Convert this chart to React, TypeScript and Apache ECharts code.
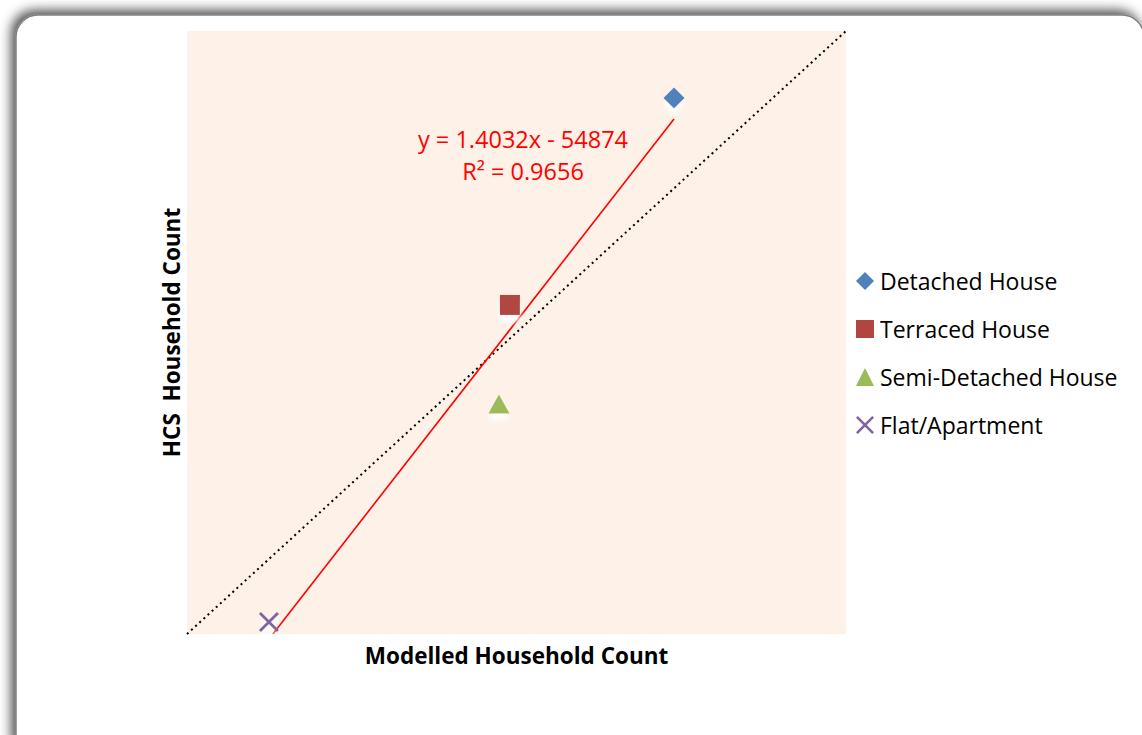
import React, { useEffect, useRef } from "react";
import * as echarts from "echarts";

const AXIS_MAX = 300000;
const seriesNames = ["Detached House", "Terraced House", "Semi-Detached House", "Flat/Apartment"];
const modelled = [221700, 147000, 142000, 37300];
const hcs = [266700, 163700, 114400, 6000];
const colors = ["#4F81BD", "#B0463F", "#9BBB59", "#8064A2"];
const symbols = ["diamond", "rect", "triangle", "path://M0,1L1,0L10,9L9,10Z M9,0L10,1L1,10L0,9Z"];
const symbolSizes = [21, 20, [21, 19], 20];
const slope = 1.4032;
const intercept = -54874;
const equationLines = ["y = 1.4032x - 54874", "R² = 0.9656"];

export default function App() {
  const ref = useRef<HTMLDivElement>(null);
  useEffect(() => {
    if (!ref.current) return;
    const chart = echarts.init(ref.current, null, { renderer: "svg" });
    const xStart = -intercept / slope;
    const xEnd = Math.max(...modelled);
    const font = "'Open Sans', sans-serif";
    const scatterSeries = seriesNames.map((name, i) => ({
      name,
      type: "scatter",
      data: [[modelled[i], hcs[i]]],
      symbol: symbols[i],
      symbolSize: symbolSizes[i],
      itemStyle: {
        color: colors[i],
        opacity: 1,
        shadowColor: "rgba(255,255,255,0.9)",
        shadowBlur: 5,
        shadowOffsetY: 7,
      },
      z: 5,
    }));
    chart.setOption({
      animation: false,
      grid: {
        left: 187,
        top: 31,
        width: 659,
        height: 603,
        show: true,
        backgroundColor: "#FDF1E8",
        borderWidth: 0,
      },
      xAxis: {
        type: "value",
        min: 0,
        max: AXIS_MAX,
        axisLine: { show: false },
        axisTick: { show: false },
        axisLabel: { show: false },
        splitLine: { show: false },
        name: "Modelled Household Count",
        nameLocation: "middle",
        nameGap: 10,
        nameTextStyle: { fontFamily: font, fontWeight: "bold", fontSize: 22.5, color: "#000" },
      },
      yAxis: {
        type: "value",
        min: 0,
        max: AXIS_MAX,
        axisLine: { show: false },
        axisTick: { show: false },
        axisLabel: { show: false },
        splitLine: { show: false },
        name: "HCS  Household Count",
        nameLocation: "middle",
        nameGap: 4,
        nameTextStyle: { fontFamily: font, fontWeight: "bold", fontSize: 22.5, color: "#000" },
      },
      legend: {
        orient: "vertical",
        left: 856,
        top: 269,
        padding: 0,
        itemGap: 24,
        itemWidth: 18,
        itemHeight: 18,
        data: seriesNames.map((name) => ({
          name,
          itemStyle: { shadowBlur: 0, shadowOffsetY: 0 },
        })),
        textStyle: { fontFamily: font, fontSize: 23, color: "#000", lineHeight: 24, padding: [0, 0, 0, 1] },
      },
      series: [
        {
          name: "identity",
          type: "line",
          data: [[0, 0], [AXIS_MAX, AXIS_MAX]],
          symbol: "none",
          lineStyle: { color: "#000", width: 2, type: [2, 3.6] },
          z: 2,
          silent: true,
        },
        {
          name: "trend",
          type: "line",
          data: [[xStart, 0], [xEnd, slope * xEnd + intercept]],
          symbol: "none",
          lineStyle: { color: "#FF0000", width: 1.6 },
          z: 3,
          silent: true,
        },
        ...scatterSeries,
      ],
      graphic: [
        {
          type: "rect",
          z: -10,
          shape: { x: 16, y: 15, width: 1128, height: 745, r: 22 },
          style: {
            fill: "#fff",
            stroke: "#808080",
            lineWidth: 1.5,
            shadowColor: "rgba(0,0,0,0.7)",
            shadowBlur: 12,
            shadowOffsetX: -4,
            shadowOffsetY: -4,
          },
        },
        {
          type: "text",
          x: 523,
          y: 139,
          z: 10,
          style: {
            text: equationLines[0],
            fill: "#FF0000",
            fontFamily: font,
            fontSize: 23.5,
            align: "center",
            verticalAlign: "middle",
          },
        },
        {
          type: "text",
          x: 523,
          y: 171,
          z: 10,
          style: {
            text: equationLines[1],
            fill: "#FF0000",
            fontFamily: font,
            fontSize: 23.5,
            align: "center",
            verticalAlign: "middle",
          },
        },
      ],
    });
    return () => chart.dispose();
  }, []);
  return (
    <div
      ref={ref}
      style={{ position: "absolute", left: 0, top: 0, width: 1142, height: 735, background: "#fff" }}
    />
  );
}
